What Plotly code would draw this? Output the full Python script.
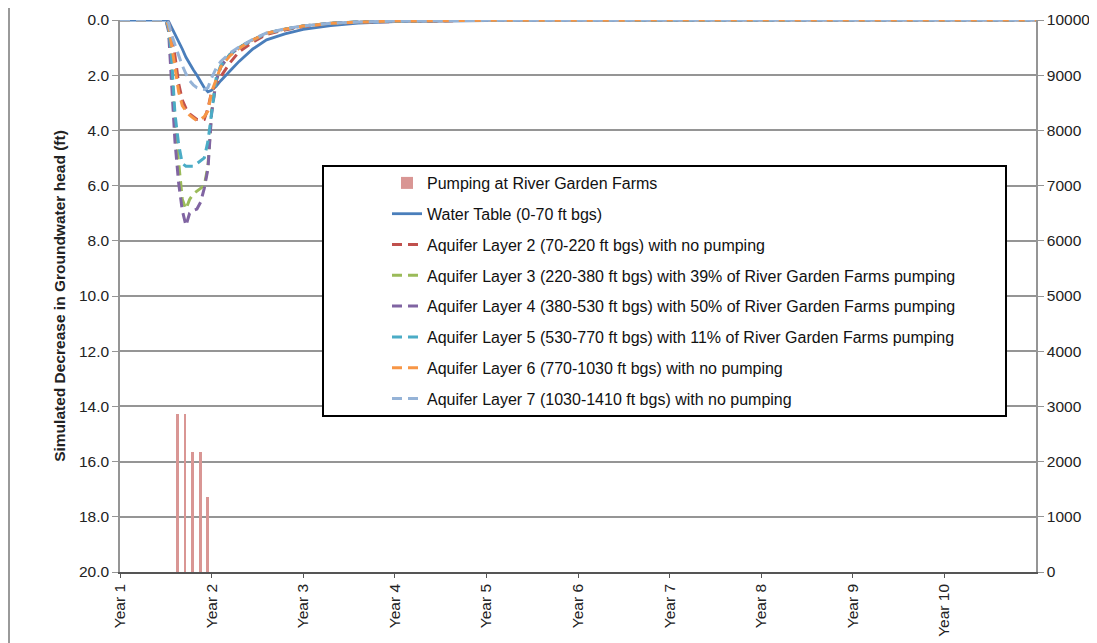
import plotly.graph_objects as go

# ---- data ----
time_years = [1.0, 1.5, 1.53, 1.56, 1.6, 1.64, 1.68, 1.72, 1.76, 1.8, 1.84, 1.88, 1.92, 1.96, 2.0,
              2.05, 2.1, 2.2, 2.3, 2.45, 2.6, 2.8, 3.0, 3.3, 3.6, 4.0, 4.5, 5.0, 6.0, 11.0]

water_table = [0, 0, 0.05, 0.25, 0.5, 0.75, 1.05, 1.35, 1.6, 1.8, 2.0, 2.25, 2.45, 2.6, 2.55,
               2.4, 2.2, 1.85, 1.5, 1.05, 0.72, 0.5, 0.34, 0.2, 0.11, 0.06, 0.03, 0.02, 0.01, 0]
layer2 = [0, 0, 0.1, 0.5, 1.3, 2.3, 2.9, 3.2, 3.4, 3.5, 3.6, 3.62, 3.6, 3.2, 2.6,
          2.3, 2.05, 1.55, 1.15, 0.8, 0.52, 0.36, 0.24, 0.13, 0.08, 0.05, 0.03, 0.01, 0.005, 0]
layer3 = [0, 0, 0.3, 1.6, 3.8, 5.3, 6.5, 6.85, 6.5, 6.3, 6.2, 6.1, 6.0, 5.3, 3.3,
          2.2, 1.7, 1.25, 1.0, 0.72, 0.48, 0.33, 0.22, 0.12, 0.07, 0.04, 0.02, 0.01, 0.005, 0]
layer4 = [0, 0, 0.4, 2.0, 4.4, 5.9, 6.9, 7.45, 7.0, 6.9, 6.85, 6.6, 6.1, 5.4, 3.4,
          2.2, 1.7, 1.25, 1.0, 0.72, 0.48, 0.33, 0.22, 0.12, 0.07, 0.04, 0.02, 0.01, 0.005, 0]
layer5 = [0, 0, 0.3, 1.2, 3.4, 4.5, 5.2, 5.3, 5.3, 5.3, 5.2, 5.1, 5.0, 4.4, 3.4,
          2.1, 1.65, 1.25, 1.0, 0.72, 0.48, 0.33, 0.22, 0.12, 0.07, 0.04, 0.02, 0.01, 0.005, 0]
layer6 = [0, 0, 0.2, 0.8, 1.7, 2.6, 3.1, 3.3, 3.45, 3.55, 3.65, 3.6, 3.5, 3.3, 2.6,
          2.15, 1.7, 1.3, 1.02, 0.72, 0.48, 0.33, 0.22, 0.12, 0.07, 0.04, 0.02, 0.01, 0.005, 0]
layer7 = [0, 0, 0.1, 0.5, 0.9, 1.3, 1.65, 1.95, 2.2, 2.35, 2.45, 2.5, 2.52, 2.45, 2.1,
          1.75, 1.5, 1.2, 0.98, 0.7, 0.47, 0.32, 0.21, 0.12, 0.07, 0.04, 0.02, 0.01, 0.005, 0]

pump_months = [8, 9, 10, 11, 12]          # months of Year 1
pump_values = [2860, 2860, 2180, 2180, 1350]
pump_x = [1 + (m - 0.5) / 12 for m in pump_months]

year_ticks = list(range(1, 11))
year_labels = ["Year %d" % i for i in year_ticks]

series = [
    ("Water Table (0-70 ft bgs)", water_table, "#4A7EBB", "solid"),
    ("Aquifer Layer 2 (70-220 ft bgs) with no pumping", layer2, "#C0504D", "10px,6px"),
    ("Aquifer Layer 3 (220-380 ft bgs) with 39% of River Garden Farms pumping", layer3, "#9BBB59", "10px,6px"),
    ("Aquifer Layer 4 (380-530 ft bgs) with 50% of River Garden Farms pumping", layer4, "#8064A2", "10px,6px"),
    ("Aquifer Layer 5 (530-770 ft bgs) with 11% of River Garden Farms pumping", layer5, "#4BACC6", "10px,6px"),
    ("Aquifer Layer 6 (770-1030 ft bgs) with no pumping", layer6, "#F79646", "10px,6px"),
    ("Aquifer Layer 7 (1030-1410 ft bgs) with no pumping", layer7, "#95B3D7", "10px,6px"),
]

FONT = "Arial, Liberation Sans, sans-serif"
TICK = 15.5

fig = go.Figure()
fig.add_trace(go.Bar(x=pump_x, y=pump_values, width=0.03, yaxis="y2",
                     marker=dict(color="#D99694", line=dict(width=0)),
                     name="Pumping at River Garden Farms", legendgroup="g0"))
for i, (nm, vals, col, dash) in enumerate(series):
    fig.add_trace(go.Scatter(x=time_years, y=vals, mode="lines", name=nm,
                             line=dict(color=col, width=3 if dash != "solid" else 2.8, dash=dash),
                             legendgroup="g%d" % (i + 1)))

# page is offset by the 8px body margin
OFF = 8
W, H = 1097 - OFF, 643 - OFF
L, R, T, B = 120, 1036, 20, 572           # page coordinates of plot area
pw, ph = R - L, B - T

def px(x):
    return (x - L) / pw

def py(y):
    return (B - y) / ph

fig.update_layout(
    width=W, height=H,
    margin=dict(l=L - OFF, r=1097 - R, t=T - OFF, b=643 - B),
    paper_bgcolor="white", plot_bgcolor="white",
    font=dict(family=FONT, size=TICK, color="#222"),
    bargap=0,
    xaxis=dict(range=[1, 11], tickvals=year_ticks, ticktext=year_labels, tickangle=-90,
               showgrid=False, zeroline=False, showline=True, linecolor="#555", linewidth=1.5,
               ticks="outside", ticklen=4, tickcolor="#555", tickfont=dict(size=TICK, color="#222"),
               automargin=False),
    yaxis=dict(range=[20, 0], tick0=0, dtick=2, tickformat=".1f", showgrid=True,
               gridcolor="#959595", gridwidth=1.5, zeroline=False, showline=True,
               linecolor="#959595", linewidth=1.5, ticks="outside", ticklen=6, tickcolor="#959595",
               title=dict(text="<b>Simulated Decrease in Groundwater head (ft)</b>",
                          font=dict(size=15.5, color="#222"), standoff=10),
               tickfont=dict(size=TICK, color="#222"), automargin=False),
    yaxis2=dict(range=[0, 10000], dtick=1000, tickformat="d", overlaying="y", side="right",
                showgrid=False, zeroline=False, showline=True, linecolor="#959595", linewidth=1.5,
                ticks="outside", ticklen=6, tickcolor="#959595",
                tickfont=dict(size=TICK, color="#222"), automargin=False),
    showlegend=True,
    legend=dict(x=px(387), y=py(166), xanchor="left", yanchor="top",
                bgcolor="rgba(0,0,0,0)", borderwidth=0, traceorder="grouped",
                tracegroupgap=7, font=dict(size=16, color="#111")),
    shapes=[
        dict(type="rect", xref="paper", yref="paper", x0=px(323), x1=px(1006), y0=py(416), y1=py(166),
             line=dict(color="black", width=2), fillcolor="white", layer="above"),
        dict(type="line", xref="paper", yref="paper", x0=px(9), x1=px(9), y0=py(643), y1=py(OFF),
             line=dict(color="#9a9a9a", width=2)),
    ],
)

fig.write_html("out.html")
